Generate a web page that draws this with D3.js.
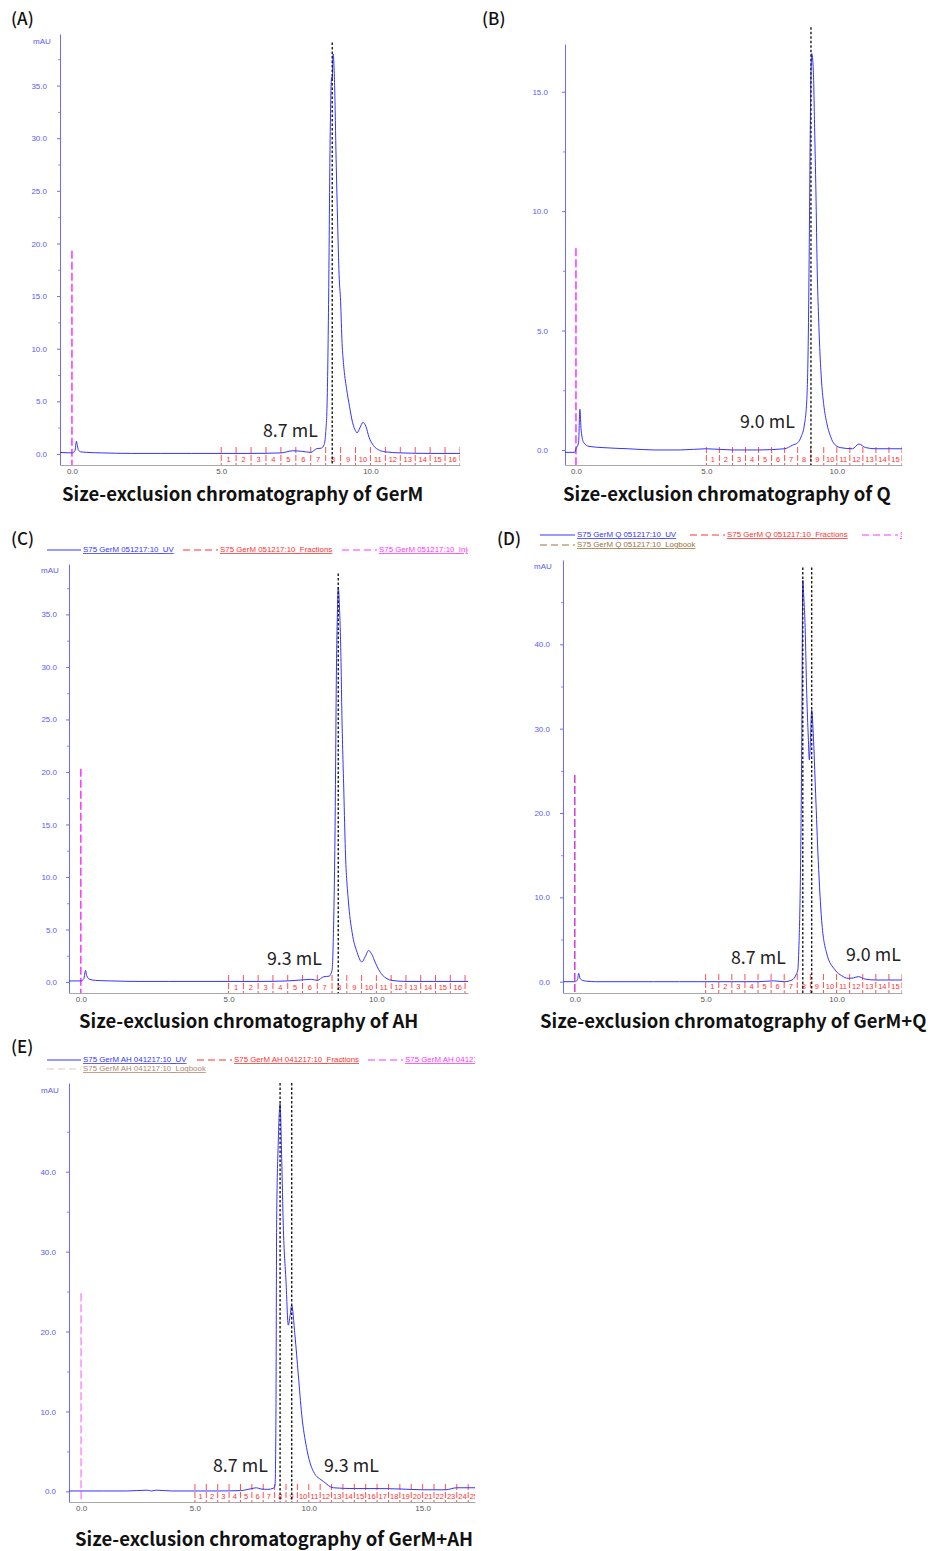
<!DOCTYPE html>
<html>
<head>
<meta charset="utf-8">
<script src="https://cdn.jsdelivr.net/npm/d3@7"></script>
<style>
  body { margin: 0; background: #fff; }
  svg { display: block; }
</style>
</head>
<body>
<svg id="fig" width="935" height="1551"></svg>
<script>
// ---- values (volume in mL, absorbance in mAU) ----
const volGerM = [-0.4, 0.0, 0.1, 0.15, 0.18, 0.22, 0.3, 0.5, 1.0, 2.0, 3.0, 4.0, 5.0, 6.0, 7.0, 7.4, 7.7, 8.0, 8.2, 8.35,
  8.45, 8.5, 8.55, 8.6, 8.65, 8.7, 8.72, 8.75, 8.8, 8.85, 8.9, 8.95, 9.0, 9.05, 9.1, 9.2, 9.3, 9.4, 9.5, 9.55,
  9.65, 9.75, 9.85, 9.95, 10.1, 10.3, 10.5, 11.0, 12.0, 13.0];
const uvGerM = [0.15, 0.1, 0.3, 1.2, 0.8, 0.35, 0.2, 0.15, 0.1, 0.05, 0.05, 0.05, 0.05, 0.05, 0.1, 0.3, 0.25, 0.15, 0.5, 0.55,
  0.9, 2.0, 5.0, 15.0, 30.0, 35.8, 35.6, 38.0, 35.0, 28.0, 22.0, 17.0, 14.5, 10.5, 8.5, 6.2, 4.5, 3.0, 2.2, 2.0,
  2.5, 3.0, 2.6, 1.6, 0.8, 0.35, 0.2, 0.1, 0.05, 0.05];

const volQ = [-0.42, -0.05, 0.0, 0.1, 0.15, 0.2, 0.3, 0.5, 1.0, 2.0, 3.0, 4.0, 5.0, 6.0, 7.0, 8.0, 8.3, 8.5, 8.65, 8.75,
  8.85, 8.91, 8.95, 8.98, 9.02, 9.04, 9.1, 9.15, 9.2, 9.25, 9.3, 9.42, 9.5, 9.62, 9.75, 9.87, 10.13, 10.6, 10.85, 11.1,
  11.5, 12.5];
const uvQ = [-0.1, -0.1, 0.05, 0.3, 1.7, 0.8, 0.3, 0.15, 0.1, 0.05, 0.0, 0.0, 0.05, 0.0, 0.0, 0.05, 0.2, 0.3, 0.6, 1.0,
  2.1, 4.9, 9.2, 13.1, 16.2, 16.6, 15.9, 13.5, 10.8, 7.5, 5.6, 2.8, 1.9, 1.1, 0.6, 0.3, 0.1, 0.05, 0.25, 0.1,
  0.05, 0.05];

const volAH = [-0.4, 0.0, 0.1, 0.16, 0.2, 0.3, 0.5, 1.0, 2.0, 3.0, 4.0, 5.0, 6.0, 7.0, 7.5, 7.8, 8.0, 8.22, 8.4, 8.5,
  8.55, 8.6, 8.65, 8.68, 8.71, 8.75, 8.8, 8.83, 8.9, 8.95, 9.05, 9.18, 9.35, 9.51, 9.62, 9.74, 9.85, 9.97, 10.19, 10.53,
  11.0, 12.0, 13.1];
const uvAH = [0.1, 0.1, 0.3, 1.1, 0.6, 0.25, 0.15, 0.1, 0.05, 0.05, 0.05, 0.05, 0.05, 0.1, 0.2, 0.25, 0.15, 0.5, 0.55, 1.1,
  5.0, 14.0, 30.0, 35.0, 37.6, 35.8, 31.0, 26.0, 18.0, 12.6, 7.8, 4.7, 2.8, 1.9, 2.4, 3.0, 2.6, 1.8, 0.7, 0.15,
  0.05, 0.05, 0.05];

const volGerMQ = [-0.45, 0.0, 0.1, 0.15, 0.2, 0.3, 0.5, 0.8, 1.0, 2.0, 3.0, 4.0, 5.0, 6.0, 7.0, 7.6, 8.0, 8.3, 8.45, 8.52,
  8.56, 8.61, 8.67, 8.71, 8.75, 8.8, 8.86, 8.92, 8.96, 9.0, 9.05, 9.11, 9.2, 9.3, 9.43, 9.62, 9.94, 10.2, 10.44, 10.65,
  10.83, 11.1, 11.5, 12.5];
const uvGerMQ = [0.0, 0.0, 0.2, 1.0, 0.4, 0.15, 0.05, 0.0, 0.0, 0.0, 0.0, 0.0, 0.0, 0.0, 0.0, 0.1, 0.0, 0.2, 0.8, 1.4,
  4.0, 10.5, 28.0, 47.6, 45.5, 42.0, 34.2, 29.0, 26.3, 28.5, 32.2, 29.4, 22.3, 14.4, 7.3, 3.4, 1.4, 0.7, 0.4, 0.45,
  0.6, 0.3, 0.2, 0.2];

const volGerMAH = [-0.53, 0.0, 1.0, 2.0, 2.9, 3.1, 3.3, 4.0, 5.0, 6.0, 7.0, 7.5, 7.7, 7.9, 8.2, 8.45, 8.52, 8.56, 8.59, 8.66,
  8.74, 8.81, 8.88, 9.0, 9.1, 9.18, 9.25, 9.39, 9.54, 9.69, 9.9, 10.2, 10.64, 11.08, 12.0, 13.0, 14.0, 15.0, 16.0, 16.5,
  17.3];
const uvGerMAH = [0.05, 0.05, 0.05, 0.05, 0.15, 0.05, 0.15, 0.05, 0.05, 0.05, 0.1, 0.35, 0.45, 0.3, 0.25, 0.4, 0.8, 10.5, 34.0, 43.7,
  48.5, 41.7, 33.3, 26.3, 20.8, 22.0, 23.3, 19.6, 14.6, 9.6, 5.5, 2.5, 1.25, 0.45, 0.35, 0.35, 0.3, 0.2, 0.2, 0.45,
  0.45];

// elution volumes marked with dotted lines
const peaksA = [8.72];
const peaksB = [9.01];
const peaksC = [8.71];
const peaksD = [8.71, 9.05];
const peaksE = [8.74, 9.25];

// injection mark heights (mAU)
const injectHeights = [19.3, 8.45, 20.3, 24.5, 24.8];

// axis ticks
const yTicks35 = [0, 5, 10, 15, 20, 25, 30, 35];
const yMinor35 = [2.5, 7.5, 12.5, 17.5, 22.5, 27.5, 32.5, 37.5];
const yTicks15 = [0, 5, 10, 15];
const yMinor15 = [2.5, 7.5, 12.5];
const yTicks40 = [0, 10, 20, 30, 40];
const yMinor40 = [5, 15, 25, 35, 45];
const xTicks10 = [0, 5, 10];
const xTicks15 = [0, 5, 10, 15];

// fraction collector marks (mL) and their numbers
const fracEdges = [5.0, 5.5, 6.0, 6.5, 7.0, 7.5, 8.0, 8.5, 9.0, 9.5, 10.0, 10.5, 11.0, 11.5, 12.0, 12.5,
  13.0, 13.5, 14.0, 14.5, 15.0, 15.5, 16.0, 16.5, 17.0, 17.5];
const fracNames = ["1", "2", "3", "4", "5", "6", "7", "8", "9", "10", "11", "12", "13", "14", "15", "16",
  "17", "18", "19", "20", "21", "22", "23", "24", "25"];

// annotations and titles
const annotA = ["8.7 mL"];
const annotB = ["9.0 mL"];
const annotC = ["9.3 mL"];
const annotD = ["8.7 mL", "9.0 mL"];
const annotE = ["8.7 mL", "9.3 mL"];
const titles = [
  "Size-exclusion chromatography of GerM",
  "Size-exclusion chromatography of Q",
  "Size-exclusion chromatography of AH",
  "Size-exclusion chromatography of GerM+Q",
  "Size-exclusion chromatography of GerM+AH"
];
const legendC = ["S75 GerM 051217:10_UV", "S75 GerM 051217:10_Fractions", "S75 GerM 051217:10_Injection"];
const legendD = ["S75 GerM Q 051217:10_UV", "S75 GerM Q 051217:10_Fractions", "S75 GerM Q 051217:10_Injection", "S75 GerM Q 051217:10_Logbook"];
const legendE = ["S75 GerM AH 041217:10_UV", "S75 GerM AH 041217:10_Fractions", "S75 GerM AH 041217:10_Injection", "S75 GerM AH 041217:10_Logbook"];

const BLUE = "#3434ff", RED = "#ff3030", MAGENTA = "#ff33ff", BROWN = "#a0703c";
const TITLE_FONT = "'Noto Sans CJK SC', 'Noto Sans', sans-serif";
const SMALL_FONT = "'Liberation Sans', Arial, sans-serif";
const PAGE_W = 935;

const svg = d3.select("#fig");

const panels = [
  { key: "A", name: "(A)", letter: [11, 25], vol: volGerM, uv: uvGerM,
    xDom: [-0.4, 13.0], xRng: [60, 460], yDom: [-1.05, 39.9], yRng: [465, 34],
    yTicks: yTicks35, yMinor: yMinor35, yPad: 10, xTicks: xTicks10, mau: [33, 44],
    nFrac: 16, fracTop: 447, peaks: peaksA, peakTop: 39.1, inject: injectHeights[0], injColor: MAGENTA,
    annot: annotA, annotPos: [[263, 437]], title: titles[0], titlePos: [62, 501] },
  { key: "B", name: "(B)", letter: [482, 25], vol: volQ, uv: uvQ,
    xDom: [-0.42, 12.5], xRng: [565, 902], yDom: [-0.63, 17.0], yRng: [465, 44],
    yTicks: yTicks15, yMinor: yMinor15, yPad: 14, xTicks: xTicks10, mau: null,
    nFrac: 15, fracTop: 447, peaks: peaksB, peakTop: 17.7, inject: injectHeights[1], injColor: MAGENTA,
    annot: annotB, annotPos: [[740, 428]], title: titles[1], titlePos: [563, 501] },
  { key: "C", name: "(C)", letter: [11, 545], vol: volAH, uv: uvAH,
    xDom: [-0.4, 13.1], xRng: [69, 468], yDom: [-1.05, 39.8], yRng: [993, 564],
    yTicks: yTicks35, yMinor: yMinor35, yPad: 9, xTicks: xTicks10, mau: [41, 573],
    nFrac: 16, fracTop: 975, peaks: peaksC, peakTop: 38.9, inject: injectHeights[2], injColor: MAGENTA,
    annot: annotC, annotPos: [[267, 965]], title: titles[2], titlePos: [79, 1028],
    legend: legendC, legendY: [552, 552, 552], legendLines: [[47, 81], [183, 218], [342, 377]], legendClip: 468 },
  { key: "D", name: "(D)", letter: [497, 545], vol: volGerMQ, uv: uvGerMQ,
    xDom: [-0.45, 12.5], xRng: [563, 902], yDom: [-1.34, 50.0], yRng: [993, 560],
    yTicks: yTicks40, yMinor: yMinor40, yPad: 10, xTicks: xTicks10, mau: [534, 569],
    nFrac: 15, fracTop: 974, peaks: peaksD, peakTop: 49.1, inject: injectHeights[3], injColor: "#d23cd2",
    annot: annotD, annotPos: [[731, 964], [846, 961]], title: titles[3], titlePos: [540, 1028],
    legend: legendD, legendY: [537, 537, 537, 547], legendLines: [[540, 575], [690, 725], [862, 898], [540, 575]], legendClip: 902,
    logColor: BROWN, logText: BROWN },
  { key: "E", name: "(E)", letter: [11, 1053], vol: volGerMAH, uv: uvGerMAH,
    xDom: [-0.53, 17.3], xRng: [69, 475], yDom: [-1.33, 51.1], yRng: [1502, 1083],
    yTicks: yTicks40, yMinor: yMinor40, yPad: 10, xTicks: xTicks15, mau: [41, 1093],
    nFrac: 25, fracTop: 1484, peaks: peaksE, peakTop: 51.1, inject: injectHeights[4], injColor: "#ff8cff",
    annot: annotE, annotPos: [[213, 1472], [324, 1472]], title: titles[4], titlePos: [75, 1546],
    legend: legendE, legendY: [1062, 1062, 1062, 1071], legendLines: [[47, 81], [197, 232], [368, 403], [47, 81]], legendClip: 475,
    logColor: "#e6c4b4", logText: "#b08a70" }
];

function drawPanel(p) {
  const g = svg.append("g").attr("class", "panel-" + p.key);
  const x = d3.scaleLinear().domain(p.xDom).range(p.xRng);
  const y = d3.scaleLinear().domain(p.yDom).range(p.yRng);

  const clipId = "clip" + p.key;
  svg.append("clipPath").attr("id", clipId).append("rect")
    .attr("x", p.xRng[0]).attr("y", p.yRng[1] - 30)
    .attr("width", p.xRng[1] - p.xRng[0]).attr("height", p.yRng[0] - p.yRng[1] + 30);

  // panel letter
  g.append("text")
    .attr("x", p.letter[0]).attr("y", p.letter[1])
    .style("font-family", TITLE_FONT).style("font-size", "17px").style("font-weight", 500)
    .attr("fill", "#111")
    .text(p.name);

  // legend (the software clips long entries at the plot edge)
  if (p.legend) {
    const legClip = "legclip" + p.key;
    svg.append("clipPath").attr("id", legClip).append("rect")
      .attr("x", 0).attr("y", p.legendY[0] - 20).attr("width", p.legendClip).attr("height", 40);
    const lg = g.append("g").attr("clip-path", `url(#${legClip})`);
    const cols = [BLUE, RED, MAGENTA, p.logColor];
    const txtCols = [BLUE, RED, MAGENTA, p.logText];
    const dashes = [null, "7,4", "7,4", "7,4"];
    p.legend.forEach((lab, i) => {
      const [x1, x2] = p.legendLines[i];
      const ly = p.legendY[i];
      lg.append("line").attr("x1", x1).attr("x2", x2).attr("y1", ly - 2).attr("y2", ly - 2)
        .attr("stroke", cols[i]).attr("stroke-width", 1)
        .attr("stroke-dasharray", dashes[i]);
      const t = lg.append("text").attr("x", x2 + 2).attr("y", ly)
        .style("font-family", SMALL_FONT).style("font-size", "7.9px")
        .style("text-decoration", "underline")
        .attr("fill", txtCols[i]).text(lab);
      // keep the (hidden) tail of a clipped entry inside the page
      let s = lab;
      while (s.length > 1 && x2 + 2 + t.node().getComputedTextLength() > PAGE_W - 2) {
        s = s.slice(0, -1);
        t.text(s);
      }
    });
  }

  // y axis
  const yAxis = d3.axisLeft(y).tickValues(p.yTicks).tickSize(3).tickSizeOuter(0)
    .tickPadding(p.yPad).tickFormat(d3.format(".1f"));
  const gy = g.append("g").attr("transform", `translate(${p.xRng[0]},0)`).call(yAxis);
  gy.select(".domain").attr("stroke", "#6c6cff");
  gy.selectAll(".tick line").attr("stroke", "#6c6cff");
  gy.selectAll(".tick text").attr("fill", "#5a5af5")
    .style("font-family", SMALL_FONT).style("font-size", "8px");

  const gyMinor = g.append("g").attr("transform", `translate(${p.xRng[0]},0)`)
    .call(d3.axisLeft(y).tickValues(p.yMinor).tickSize(2).tickFormat(""));
  gyMinor.select(".domain").remove();
  gyMinor.selectAll(".tick line").attr("stroke", "#8a8aff");

  if (p.mau) {
    g.append("text").attr("x", p.mau[0]).attr("y", p.mau[1])
      .style("font-family", SMALL_FONT).style("font-size", "8px")
      .attr("fill", "#5a5af5").text("mAU");
  }

  // x axis
  const xAxis = d3.axisBottom(x).tickValues(p.xTicks).tickSize(0).tickSizeOuter(0)
    .tickPadding(3).tickFormat(d3.format(".1f"));
  const gx = g.append("g").attr("transform", `translate(0,${p.yRng[0]})`).call(xAxis);
  gx.select(".domain").attr("stroke", "#a8a8a8");
  gx.selectAll(".tick text").attr("fill", "#555")
    .style("font-family", SMALL_FONT).style("font-size", "8px");

  const plot = g.append("g").attr("clip-path", `url(#${clipId})`);

  // fractions
  const edges = fracEdges.slice(0, p.nFrac + 1);
  plot.selectAll(".frac").data(edges).enter().append("line")
    .attr("x1", d => x(d)).attr("x2", d => x(d))
    .attr("y1", p.fracTop).attr("y2", p.yRng[0])
    .attr("stroke", RED).attr("stroke-width", 1).attr("stroke-opacity", 0.85)
    .attr("stroke-dasharray", "6,2");
  plot.selectAll(".fracLabel").data(fracNames.slice(0, p.nFrac)).enter().append("text")
    .attr("x", (d, i) => (x(edges[i]) + x(edges[i + 1])) / 2)
    .attr("y", p.fracTop + 15)
    .attr("text-anchor", "middle")
    .style("font-family", SMALL_FONT).style("font-size", "7.5px")
    .attr("fill", RED).text(d => d);

  // injection mark
  plot.append("line")
    .attr("x1", x(0)).attr("x2", x(0))
    .attr("y1", y(p.inject)).attr("y2", p.yRng[0])
    .attr("stroke", p.injColor).attr("stroke-width", 1.5)
    .attr("stroke-dasharray", "8,3");

  // UV trace
  const line = d3.line().x((d, i) => x(p.vol[i])).y(d => y(d)).curve(d3.curveMonotoneX);
  plot.append("path").datum(p.uv)
    .attr("d", line)
    .attr("fill", "none").attr("stroke", BLUE).attr("stroke-width", 1);

  // elution volume markers
  plot.selectAll(".peak").data(p.peaks).enter().append("line")
    .attr("x1", d => x(d)).attr("x2", d => x(d))
    .attr("y1", y(p.peakTop)).attr("y2", p.yRng[0])
    .attr("stroke", "#1a1a1a").attr("stroke-width", 1.4)
    .attr("stroke-dasharray", "2.5,2");

  // annotations
  p.annot.forEach((t, i) => {
    g.append("text").attr("x", p.annotPos[i][0]).attr("y", p.annotPos[i][1])
      .style("font-family", TITLE_FONT).style("font-size", "17.8px")
      .attr("fill", "#222").text(t);
  });

  // title
  g.append("text").attr("x", p.titlePos[0]).attr("y", p.titlePos[1])
    .style("font-family", TITLE_FONT).style("font-size", "18.5px").style("font-weight", 700)
    .attr("fill", "#111").text(p.title);
}

panels.forEach(drawPanel);
</script>
</body>
</html>
